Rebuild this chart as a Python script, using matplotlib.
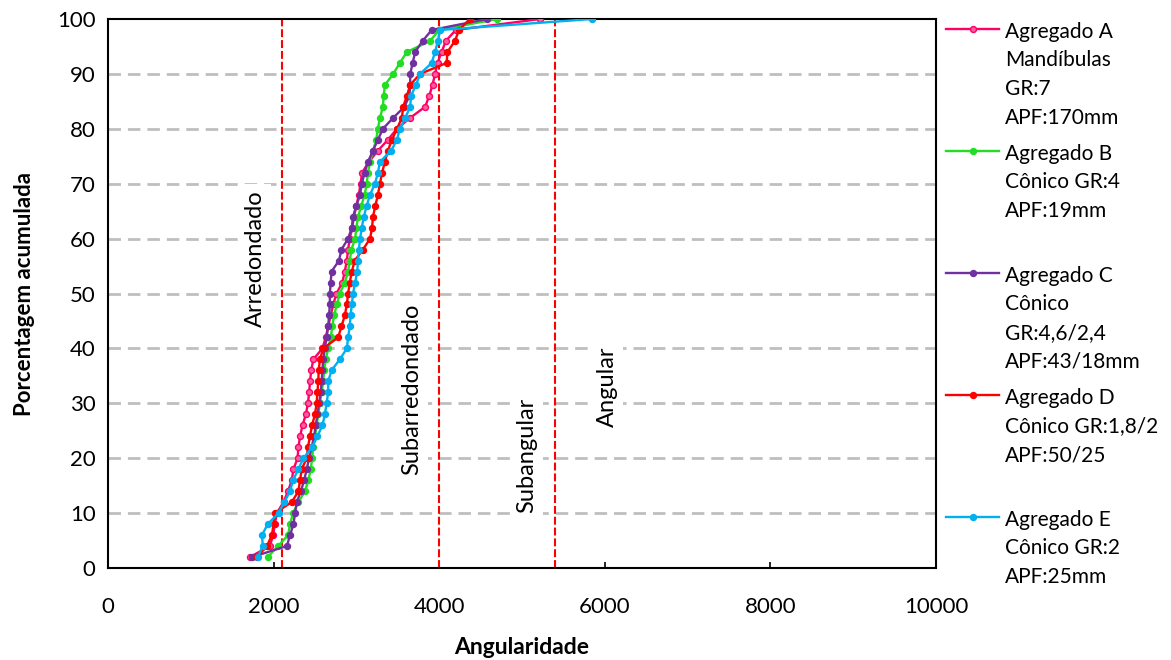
import numpy as np
import matplotlib
matplotlib.use("Agg")
import matplotlib.pyplot as plt

# porcentagem acumulada (2 em 2)
pct = list(range(2, 101, 2))

ag_a = [1715, 1955, 1995, 2015, 2040, 2120, 2175, 2220, 2240, 2290,
        2300, 2320, 2350, 2390, 2415, 2430, 2440, 2455, 2480, 2590,
        2630, 2660, 2690, 2720, 2760, 2830, 2860, 2885, 2900, 2920,
        2950, 2970, 3000, 3030, 3050, 3070, 3150, 3260, 3380, 3490,
        3650, 3830, 3880, 3920, 3950, 3980, 4030, 4080, 4200, 5220]
ag_b = [1930, 2055, 2175, 2200, 2235, 2300, 2380, 2420, 2450, 2465,
        2480, 2500, 2520, 2540, 2560, 2580, 2600, 2610, 2630, 2660,
        2690, 2710, 2730, 2765, 2800, 2860, 2900, 2920, 2940, 2985,
        3000, 3020, 3060, 3100, 3125, 3140, 3165, 3200, 3240, 3260,
        3285, 3320, 3330, 3345, 3445, 3525, 3610, 3890, 4000, 4700]
ag_c = [1740, 2160, 2200, 2240, 2260, 2280, 2330, 2370, 2400, 2430,
        2460, 2490, 2510, 2530, 2550, 2570, 2580, 2590, 2600, 2620,
        2640, 2660, 2670, 2680, 2680, 2690, 2700, 2790, 2820, 2900,
        2945, 2960, 3000, 3045, 3065, 3100, 3140, 3200, 3260, 3320,
        3445, 3580, 3640, 3650, 3650, 3680, 3710, 3800, 3910, 4580]
ag_d = [1800, 1920, 1980, 2000, 2015, 2220, 2300, 2320, 2340, 2400,
        2415, 2440, 2465, 2500, 2520, 2530, 2540, 2545, 2560, 2600,
        2780, 2820, 2860, 2885, 2900, 2920, 2945, 2980, 3080, 3165,
        3190, 3200, 3230, 3260, 3285, 3310, 3345, 3380, 3430, 3490,
        3550, 3565, 3610, 3650, 3770, 4090, 4100, 4190, 4240, 4370]
ag_e = [1810, 1870, 1860, 1930, 2060, 2130, 2200, 2235, 2300, 2360,
        2465, 2530, 2590, 2620, 2640, 2660, 2660, 2700, 2800, 2885,
        2900, 2920, 2930, 2945, 2960, 2985, 3010, 3020, 3030, 3045,
        3065, 3090, 3125, 3165, 3225, 3260, 3285, 3420, 3490, 3525,
        3590, 3650, 3660, 3720, 3770, 3910, 3950, 3985, 4010, 5845]

labels = ["Agregado A\nMandíbulas\nGR:7\nAPF:170mm",
          "Agregado B\nCônico GR:4\nAPF:19mm\n",
          "Agregado C\nCônico\nGR:4,6/2,4\nAPF:43/18mm",
          "Agregado D\nCônico GR:1,8/2\nAPF:50/25\n",
          "Agregado E\nCônico GR:2\nAPF:25mm"]
cores = ["#FF0066", "#22DD22", "#7030A0", "#FF0000", "#00B0F0"]
faces = ["#FF5C9D", "#22DD22", "#7030A0", "#FF0000", "#00B0F0"]

limites = [2100, 4000, 5400]
classes = ["Arredondado", "Subarredondado", "Subangular", "Angular"]
pos_classes = [(1775, 56.4), (3668, 32.6), (5060, 20.6), (6027, 33)]

plt.rcParams['font.family'] = ['Lato', 'DejaVu Sans']

fig = plt.figure(figsize=(11.71, 6.6), dpi=100)
ax = fig.add_axes([0.0922, 0.1394, 0.7071, 0.8318])

for v in range(10, 100, 10):
    ax.axhline(v, color="#BFBFBF", lw=2, ls=(0, (4.5, 2.5)), zorder=1)

for x in limites:
    ax.axvline(x, color="red", lw=1.5, ls=(0, (3.8, 1.4)), zorder=2)

for (tx, ty), t in zip(pos_classes, classes):
    ax.text(tx, ty, t, rotation=90, ha="center", va="center", fontsize=17,
            bbox=dict(facecolor="white", edgecolor="none", pad=4), zorder=3)

for xs, lab, c, fc in zip([ag_a, ag_b, ag_c, ag_d, ag_e], labels, cores, faces):
    ax.plot(xs, pct, color=c, lw=1.7, marker="o", ms=4.3,
            markerfacecolor=fc, markeredgecolor=c, label=lab, zorder=4)

ax.set_xlim(0, 10000)
ax.set_ylim(0, 100)
ax.set_xticks(range(0, 10001, 2000))
ax.set_yticks(range(0, 101, 10))
ax.tick_params(labelsize=16, direction="in", length=4, width=1.2, left=False)
ax.tick_params(axis="x", pad=21)
ax.tick_params(axis="y", pad=9)
for s in ax.spines.values():
    s.set_linewidth(1.5)
    s.set_color("black")
ax.set_xlabel("Angularidade", fontsize=16.5, fontweight="bold", labelpad=14)
ax.set_ylabel("Porcentagem acumulada", fontsize=16, fontweight="bold", labelpad=16)

leg = ax.legend(loc="upper left", bbox_to_anchor=(0.801, 0.98),
                bbox_transform=fig.transFigure, frameon=False, fontsize=15,
                handlelength=2.55, handletextpad=0.25, labelspacing=0.75,
                borderaxespad=0)
for t in leg.get_texts():
    t.set_linespacing(1.55)
for col in leg._legend_handle_box.get_children():
    for item in col.get_children():
        item.align = "top"

fig.savefig("out.png", dpi=100)
